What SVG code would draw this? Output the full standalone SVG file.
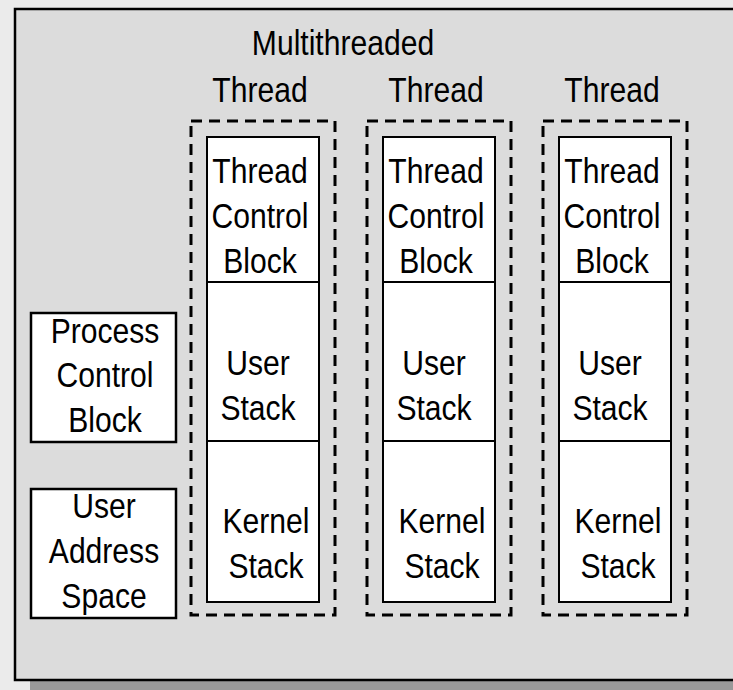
<svg xmlns="http://www.w3.org/2000/svg" width="733" height="690" viewBox="0 0 733 690">
<style>
  text { font-family: "Liberation Sans", Arial, sans-serif; font-size: 35px; fill: #000; text-anchor: middle; }
  .dash { fill: none; stroke: #000; stroke-width: 3; stroke-dasharray: 11 7; }
  .cell { fill: #fff; stroke: #000; stroke-width: 2; }
  .pbox { fill: #fff; stroke: #000; stroke-width: 2.5; }
</style>
<rect x="0" y="0" width="733" height="690" fill="#ebebeb"/>
<rect x="30" y="23" width="720" height="680" fill="#999999"/>
<rect id="panel" x="15" y="9" width="740" height="671" fill="#dcdcdc" stroke="#000" stroke-width="2.5"/>

<g id="title">
  <text transform="translate(343 55) scale(0.86 1)">Multithreaded</text>
</g>

<g id="pcb">
  <rect class="pbox" x="31" y="313" width="145" height="129"/>
  <text transform="translate(105 343) scale(0.86 1)">Process</text>
  <text transform="translate(105 387) scale(0.86 1)">Control</text>
  <text transform="translate(105 432) scale(0.86 1)">Block</text>
</g>

<g id="uas">
  <rect class="pbox" x="31" y="489" width="145" height="129"/>
  <text transform="translate(104 518) scale(0.86 1)">User</text>
  <text transform="translate(104 563) scale(0.86 1)">Address</text>
  <text transform="translate(104 608) scale(0.86 1)">Space</text>
</g>

<g id="thread1">
  <text transform="translate(260 102) scale(0.86 1)">Thread</text>
  <rect class="dash" x="191" y="121" width="144" height="494"/>
  <rect class="cell" x="207" y="137" width="112" height="145"/>
  <rect class="cell" x="207" y="282" width="112" height="159"/>
  <rect class="cell" x="207" y="441" width="112" height="161"/>
  <text transform="translate(260 183) scale(0.86 1)">Thread</text>
  <text transform="translate(260 228) scale(0.86 1)">Control</text>
  <text transform="translate(260 273) scale(0.86 1)">Block</text>
  <text transform="translate(258 375) scale(0.86 1)">User</text>
  <text transform="translate(258 420) scale(0.86 1)">Stack</text>
  <text transform="translate(266 533) scale(0.86 1)">Kernel</text>
  <text transform="translate(266 578) scale(0.86 1)">Stack</text>
</g>

<g id="thread2">
  <text transform="translate(436 102) scale(0.86 1)">Thread</text>
  <rect class="dash" x="367" y="121" width="144" height="494"/>
  <rect class="cell" x="383" y="137" width="112" height="145"/>
  <rect class="cell" x="383" y="282" width="112" height="159"/>
  <rect class="cell" x="383" y="441" width="112" height="161"/>
  <text transform="translate(436 183) scale(0.86 1)">Thread</text>
  <text transform="translate(436 228) scale(0.86 1)">Control</text>
  <text transform="translate(436 273) scale(0.86 1)">Block</text>
  <text transform="translate(434 375) scale(0.86 1)">User</text>
  <text transform="translate(434 420) scale(0.86 1)">Stack</text>
  <text transform="translate(442 533) scale(0.86 1)">Kernel</text>
  <text transform="translate(442 578) scale(0.86 1)">Stack</text>
</g>

<g id="thread3">
  <text transform="translate(612 102) scale(0.86 1)">Thread</text>
  <rect class="dash" x="543" y="121" width="144" height="494"/>
  <rect class="cell" x="559" y="137" width="112" height="145"/>
  <rect class="cell" x="559" y="282" width="112" height="159"/>
  <rect class="cell" x="559" y="441" width="112" height="161"/>
  <text transform="translate(612 183) scale(0.86 1)">Thread</text>
  <text transform="translate(612 228) scale(0.86 1)">Control</text>
  <text transform="translate(612 273) scale(0.86 1)">Block</text>
  <text transform="translate(610 375) scale(0.86 1)">User</text>
  <text transform="translate(610 420) scale(0.86 1)">Stack</text>
  <text transform="translate(618 533) scale(0.86 1)">Kernel</text>
  <text transform="translate(618 578) scale(0.86 1)">Stack</text>
</g>

<g id="connectors"></g>
</svg>
